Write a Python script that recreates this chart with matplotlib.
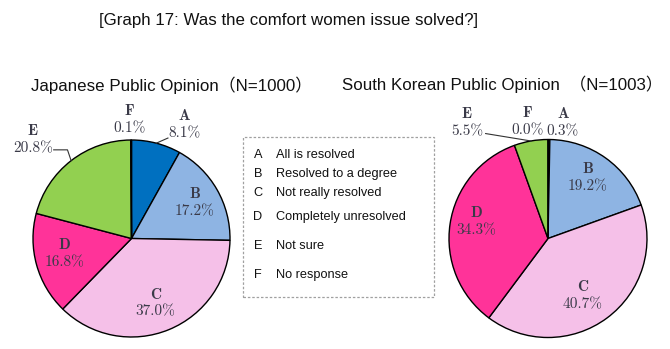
import matplotlib
matplotlib.use("Agg")
import numpy as np
import matplotlib.pyplot as plt
from matplotlib.patches import Rectangle

# ---- data ----
categories = ["A", "B", "C", "D", "E", "F"]
descriptions = ["All is resolved", "Resolved to a degree", "Not really resolved",
                "Completely unresolved", "Not sure", "No response"]
japan_values = [8.1, 17.2, 37.0, 16.8, 20.8, 0.1]
korea_values = [0.3, 19.2, 40.7, 34.3, 5.5, 0.0]
slice_colors = ["#0070C0", "#8EB4E3", "#F5C0E8", "#FF3399", "#92D050", "#7F7F7F"]

title = "[Graph 17: Was the comfort women issue solved?]"
japan_title = "Japanese Public Opinion（N=1000）"
korea_title = "South Korean Public Opinion  （N=1003）"

W, H = 670, 349
fig = plt.figure(figsize=(W / 100, H / 100), dpi=100)
fig.patch.set_facecolor("white")

sans = ["Liberation Sans", "Noto Sans CJK JP", "DejaVu Sans"]
label_color = "#3a3a48"


def fx(px):
    return px / W


def fy(py):
    return 1 - py / H


def pie_axes(cx, cy, r):
    ax = fig.add_axes([fx(cx - r), fy(cy + r), 2 * r / W, 2 * r / H])
    return ax


def draw_pie(ax, values, label_pos, leaders):
    wedges, _ = ax.pie(values, colors=slice_colors, startangle=90,
                       counterclock=False, radius=1.0,
                       wedgeprops=dict(edgecolor="black", linewidth=1.0))
    ax.set_xlim(-1, 1)
    ax.set_ylim(-1, 1)
    ax.set_aspect("equal")
    ax.axis("off")
    for w in wedges:
        w.set_clip_on(False)
    cum = np.concatenate([[0], np.cumsum(values)]) / 100.0
    for i, (cat, val) in enumerate(zip(categories, values)):
        x, y = label_pos[i]
        ax.text(x, y + 0.09, cat, ha="center", va="center", fontsize=11,
                family="cmb10", color=label_color, clip_on=False)
        ax.text(x, y - 0.085, f"{val:.1f}%", ha="center", va="center",
                fontsize=11, family="cmr10", color=label_color, clip_on=False)
    for i, pts in leaders.items():
        mid = 90 - 360 * (cum[i] + cum[i + 1]) / 2
        sx, sy = np.cos(np.radians(mid)), np.sin(np.radians(mid))
        xs = [sx] + [p[0] for p in pts]
        ys = [sy] + [p[1] for p in pts]
        ax.plot(xs, ys, color="#333333", lw=0.8, clip_on=False)


# Japanese pie
ax_jp = pie_axes(131.5, 238.5, 98.5)
jp_label_pos = [(0.54, 1.15), (0.64, 0.36), (0.24, -0.66),
                (-0.68, -0.16), (-1.0, 1.0), (-0.02, 1.20)]
jp_leaders = {0: [(0.37, 1.02)], 4: [(-0.65, 0.90), (-0.79, 0.90)]}
draw_pie(ax_jp, japan_values, jp_label_pos, jp_leaders)

# South Korean pie
ax_kr = pie_axes(548, 238.5, 99)
kr_label_pos = [(0.15, 1.17), (0.40, 0.61), (0.35, -0.58),
                (-0.72, 0.17), (-0.82, 1.17), (-0.21, 1.18)]
kr_leaders = {4: [(-0.63, 1.06)]}
draw_pie(ax_kr, korea_values, kr_label_pos, kr_leaders)

# Titles
fig.text(fx(288.5), fy(20), title, ha="center", va="center",
         fontsize=12.2, family=sans, color="#111111")
fig.text(fx(171.5), fy(85), japan_title, ha="center", va="center",
         fontsize=12.2, family=sans, color="#111111")
fig.text(fx(502), fy(84), korea_title, ha="center", va="center",
         fontsize=12.2, family=sans, color="#111111")

# Legend box
box = Rectangle((fx(243), fy(297)), fx(434) - fx(243), fy(137) - fy(297),
                transform=fig.transFigure, fill=False, edgecolor="#a0a0a0",
                linewidth=0.9, linestyle=(0, (2, 1.5)))
fig.add_artist(box)
legend_rows = [155, 174, 193, 217, 246, 275]
for cat, desc, py in zip(categories, descriptions, legend_rows):
    fig.text(fx(258), fy(py), cat, ha="center", va="center",
             fontsize=9.2, family=sans, color="#111111")
    fig.text(fx(276), fy(py), desc, ha="left", va="center",
             fontsize=9.2, family=sans, color="#111111")

fig.savefig("out.png", dpi=100, facecolor="white")
